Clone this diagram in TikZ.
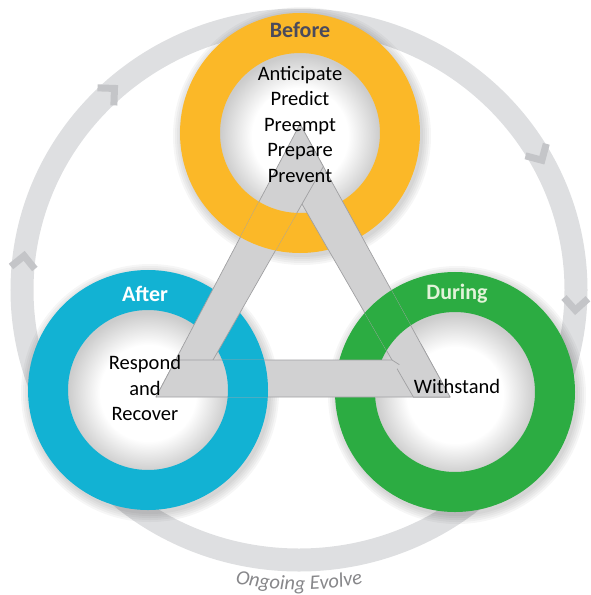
\documentclass[tikz,border=0pt]{standalone}
\usepackage{fontspec}
\setmainfont{Carlito}
\usetikzlibrary{decorations.text}

\definecolor{beforecol}{RGB}{251,184,40}
\definecolor{aftercol}{RGB}{18,178,211}
\definecolor{duringcol}{RGB}{44,172,66}
\definecolor{loopgray}{RGB}{222,223,225}
\definecolor{chevgray}{RGB}{196,197,200}
\definecolor{bargray}{RGB}{209,209,210}
\definecolor{baredge}{RGB}{160,160,162}
\definecolor{beforetxt}{RGB}{74,74,92}
\definecolor{duringtxt}{RGB}{226,243,216}
\definecolor{evolvetxt}{RGB}{135,135,138}

\pgfdeclareradialshading{discshade}{\pgfpoint{0bp}{-1bp}}{color(0bp)=(white); color(12bp)=(white); color(20bp)=(gray!40); color(25bp)=(gray!40); color(50bp)=(gray!40)}

\begin{document}
\begin{tikzpicture}[x=1pt,y=1pt,
	ring/.style={circle,minimum size=200pt,inner sep=0pt,line width=40pt,shade,shading=discshade},
	ringlabel/.style={font=\fontsize{22}{22}\selectfont\bfseries},
	steps/.style={align=center,font=\fontsize{20.5}{25.5}\selectfont},
	bar/.style={fill=bargray,draw=baredge,line width=0.7pt,line join=round},
	chevron/.style={draw=chevgray,line width=7pt}]
	
	\useasboundingbox (0,0) rectangle (590,-595);
	
	\coordinate (loopc) at (299,-290);
	\draw[loopgray,line width=23pt] (loopc) ellipse (277 and 270);
	\foreach \a in {133,174,30,-3}
	\draw[chevron,shift={(loopc)},shift={(\a:277 and 270)},rotate=\a-90] (-6,12) -- (6,0) -- (-6,-12);
	
	\foreach \p in {(300,-133),(148,-390),(455,-392)}
	\foreach \r in {121,123,...,129}
	\fill[black,opacity=0.035] \p ++(2,-3) circle (\r);
	
	\node[ring,draw=beforecol] (before) at (300,-133) {};
	\node[ring,draw=aftercol] (after) at (148,-390) {};
	\node[ring,draw=duringcol] (during) at (455,-392) {};
	
	\coordinate (A) at (300,-124);
	\coordinate (B) at (156,-397);
	\coordinate (C) at (450,-397);
	\coordinate (a) at (302,-204);
	\coordinate (b) at (213,-360);
	\coordinate (c) at (392,-360);
	\coordinate (P) at (intersection of A--C and a--b);
	\coordinate (Q) at (intersection of C--B and a--c);
	\coordinate (S) at (intersection of B--A and b--c);
	
	\draw[bar] (A) -- (C) -- (Q) -- (a) -- cycle;
	\draw[bar] (B) -- (A) -- (P) -- (b) -- cycle;
	\draw[bar] (C) -- (B) -- (S) -- (c) -- cycle;
	\begin{scope}
		\clip (C) circle (60);
		\draw[bar] (A) -- (C) -- (Q) -- (a) -- cycle;
	\end{scope}
	
	\begin{scope}
		\clip (B) -- (A) -- (P) -- (b) -- cycle;
		\draw[beforecol,line width=40pt] (before.center) circle (100);
	\end{scope}
	\begin{scope}
		\clip (A) -- (C) -- (Q) -- (a) -- cycle;
		\draw[duringcol,line width=40pt] (during.center) circle (100);
	\end{scope}
	\begin{scope}
		\clip (C) -- (B) -- (S) -- (c) -- cycle;
		\draw[aftercol,line width=40pt] (after.center) circle (100);
	\end{scope}
	
	\node[ringlabel,text=beforetxt] (beforelabel) at (300,-30) {Before};
	\node[ringlabel,text=white] (afterlabel) at (145,-294) {After};
	\node[ringlabel,text=duringtxt] (duringlabel) at (457,-294) {During};
	
	\node[steps] (beforesteps) at (300,-124) {Anticipate\\Predict\\Preempt\\Prepare\\Prevent};
	\node[steps] (aftersteps) at (145,-388) {Respond\\and\\Recover};
	\node[steps] (duringsteps) at (457,-386) {Withstand};
	
	\path[decorate,decoration={text along path,text align=center,text color=evolvetxt,
		text={|\fontsize{20.5}{20.5}\selectfont\itshape|Ongoing Evolve}}]
	([shift={(250:300)}]loopc) arc[start angle=250,end angle=290,radius=300];
\end{tikzpicture}
\end{document}
